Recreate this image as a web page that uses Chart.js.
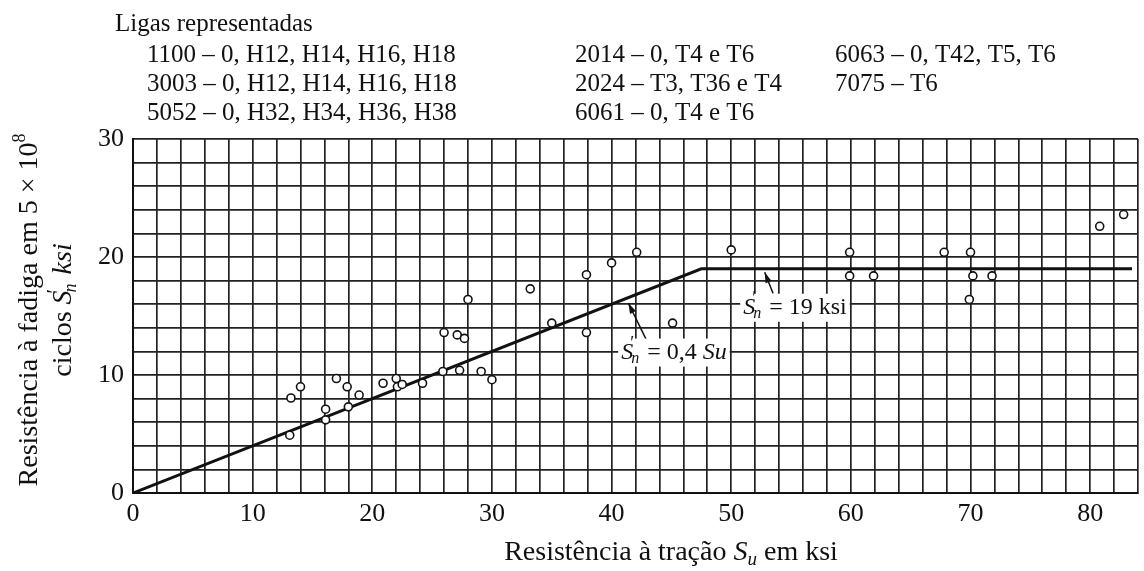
<!DOCTYPE html>
<html>
<head>
<meta charset="utf-8">
<script src="https://cdn.jsdelivr.net/npm/chart.js@4/dist/chart.umd.min.js"></script>
<style>
  html, body { margin: 0; padding: 0; background: #fff; }
</style>
</head>
<body>
<canvas id="fatigueChart" width="1144" height="571"></canvas>
<script>
// tensile strength Su (ksi) and fatigue strength S'n (ksi)
const suPoints = [13.2, 14.0, 13.1, 16.1, 16.1, 17.0, 17.9, 18.0, 18.9, 20.9,
  22.0, 22.1, 22.5, 24.2, 25.9, 26.0, 27.1, 27.7, 27.3, 28.0,
  29.1, 30.0, 33.2, 35.0, 37.9, 37.9, 40.0, 42.1, 45.1, 50.0,
  59.9, 59.9, 61.9, 67.8, 70.0, 70.2, 69.9, 71.8, 80.8, 82.8];
const snPoints = [8.05, 9.0, 4.9, 7.1, 6.2, 9.7, 9.0, 7.3, 8.3, 9.3,
  9.7, 9.0, 9.2, 9.3, 10.3, 13.6, 13.4, 13.1, 10.4, 16.4,
  10.3, 9.6, 17.3, 14.4, 18.5, 13.6, 19.5, 20.4, 14.4, 20.6,
  20.4, 18.4, 18.4, 20.4, 20.4, 18.4, 16.4, 18.4, 22.6, 23.6];

// S'n = 0,4 Su up to the 19 ksi plateau
const limitSu = [0, 47.5, 83.5];
const limitSn = [0, 19, 19];

const xLabelTicks = [0, 10, 20, 30, 40, 50, 60, 70, 80];
const yLabelTicks = [0, 10, 20, 30];

const alloyColumns = [
  ["1100 – 0, H12, H14, H16, H18", "3003 – 0, H12, H14, H16, H18", "5052 – 0, H32, H34, H36, H38"],
  ["2014 – 0, T4 e T6", "2024 – T3, T36 e T4", "6061 – 0, T4 e T6"],
  ["6063 – 0, T42, T5, T6", "7075 – T6"],
];

const SERIF = '"Liberation Serif", "DejaVu Serif", serif';
const INK = "#111";

function font(size, italic) {
  return (italic ? "italic " : "") + size + "px " + SERIF;
}

// mixed-font text on one line (italics, sub/superscripts)
function measureRich(ctx, parts) {
  let total = 0;
  parts.forEach(p => {
    ctx.font = p.font;
    p.w = ctx.measureText(p.t).width;
    if (p.advance !== false) total += p.w;
  });
  return total;
}

function drawRich(ctx, parts, x, y, align, bg) {
  const total = measureRich(ctx, parts);
  let cx = align === "center" ? x - total / 2 : align === "right" ? x - total : x;
  if (bg) {
    ctx.fillStyle = "#fff";
    ctx.fillRect(cx - 3, y - 14, total + 6, 28);
  }
  ctx.fillStyle = INK;
  ctx.textBaseline = "middle";
  ctx.textAlign = "left";
  parts.forEach(p => {
    ctx.font = p.font;
    ctx.fillText(p.t, cx + (p.dx || 0), y + (p.dy || 0));
    if (p.advance !== false) cx += p.w;
  });
}

function sPrimeN(size) {
  return [
    { t: "S", font: font(size, true) },
    { t: "′", font: font(size - 6), dy: -8, dx: -3, advance: false },
    { t: "n", font: font(size - 8, true), dy: 6, dx: -2 },
  ];
}

function arrow(ctx, x1, y1, x2, y2) {
  const a = Math.atan2(y2 - y1, x2 - x1);
  ctx.strokeStyle = INK;
  ctx.fillStyle = INK;
  ctx.lineWidth = 1.5;
  ctx.beginPath();
  ctx.moveTo(x1, y1);
  ctx.lineTo(x2, y2);
  ctx.stroke();
  ctx.beginPath();
  ctx.moveTo(x2, y2);
  ctx.lineTo(x2 - 11 * Math.cos(a - 0.3), y2 - 11 * Math.sin(a - 0.3));
  ctx.lineTo(x2 - 11 * Math.cos(a + 0.3), y2 - 11 * Math.sin(a + 0.3));
  ctx.closePath();
  ctx.fill();
}

const notesPlugin = {
  id: "notes",
  afterDatasetsDraw(chart) {
    const { ctx, scales: { x, y } } = chart;
    ctx.save();
    // S'n = 0,4 Su
    arrow(ctx, x.getPixelForValue(42.9), y.getPixelForValue(13.0),
      x.getPixelForValue(41.4), y.getPixelForValue(16.1));
    drawRich(ctx, sPrimeN(24).concat([
      { t: " = 0,4 ", font: font(24) },
      { t: "Su", font: font(24, true) },
    ]), x.getPixelForValue(40.8), y.getPixelForValue(11.9), "left", true);
    // S'n = 19 ksi
    arrow(ctx, x.getPixelForValue(53.5), y.getPixelForValue(16.9),
      x.getPixelForValue(52.8), y.getPixelForValue(18.7));
    drawRich(ctx, sPrimeN(24).concat([
      { t: " = 19 ksi", font: font(24) },
    ]), x.getPixelForValue(51.0), y.getPixelForValue(15.7), "left", true);
    ctx.restore();
  },
  afterDraw(chart) {
    const ctx = chart.ctx;
    ctx.save();
    ctx.fillStyle = INK;
    ctx.textBaseline = "alphabetic";
    ctx.textAlign = "left";
    ctx.font = font(25);
    ctx.fillText("Ligas representadas", 115, 31);
    const colX = [147, 575, 835];
    const rowY = [62, 91, 120];
    alloyColumns.forEach((col, c) => {
      col.forEach((line, r) => ctx.fillText(line, colX[c], rowY[r]));
    });

    // x axis title
    drawRich(ctx, [
      { t: "Resistência à tração ", font: font(28) },
      { t: "S", font: font(28, true) },
      { t: "u", font: font(19, true), dy: 7 },
      { t: " em ksi", font: font(28) },
    ], 671, 553, "center");

    // y axis title, two lines
    ctx.translate(0, 310);
    ctx.rotate(-Math.PI / 2);
    drawRich(ctx, [
      { t: "Resistência à fadiga em 5 × 10", font: font(28) },
      { t: "8", font: font(18), dy: -10 },
    ], 0, 30, "center");
    drawRich(ctx, [
      { t: "ciclos ", font: font(28) },
      { t: "S", font: font(28, true) },
      { t: "′", font: font(21), dy: -9, dx: -3, advance: false },
      { t: "n", font: font(18, true), dy: 7, dx: -2 },
      { t: " ksi", font: font(28, true) },
    ], 0, 64, "center");
    ctx.restore();
  },
};

const canvas = document.getElementById("fatigueChart");
new Chart(canvas.getContext("2d"), {
  type: "scatter",
  data: {
    datasets: [
      {
        label: "Ligas",
        data: suPoints.map((su, i) => ({ x: su, y: snPoints[i] })),
        pointRadius: 4,
        pointBorderWidth: 1.6,
        pointBorderColor: INK,
        pointBackgroundColor: "#fff",
        showLine: false,
      },
      {
        label: "S'n",
        data: limitSu.map((su, i) => ({ x: su, y: limitSn[i] })),
        showLine: true,
        borderColor: INK,
        borderWidth: 3,
        pointRadius: 0,
        tension: 0,
      },
    ],
  },
  options: {
    responsive: false,
    animation: false,
    devicePixelRatio: 1,
    layout: { padding: { top: 139, left: 0, right: 1, bottom: 0 } },
    plugins: { legend: { display: false }, tooltip: { enabled: false } },
    scales: {
      x: {
        type: "linear",
        min: 0,
        max: 84,
        afterFit: s => { s.height = 78; },
        grid: { color: "#222", lineWidth: 1.7, drawTicks: false },
        border: { color: INK, width: 2 },
        ticks: {
          stepSize: 2,
          autoSkip: false,
          maxRotation: 0,
          padding: 6,
          color: INK,
          font: { family: SERIF, size: 26 },
          callback: v => (xLabelTicks.includes(v) ? v : ""),
        },
      },
      y: {
        min: 0,
        max: 30,
        afterFit: s => { s.width = 133; },
        grid: { color: "#222", lineWidth: 1.7, drawTicks: false },
        border: { color: INK, width: 2 },
        ticks: {
          stepSize: 2,
          autoSkip: false,
          padding: 9,
          color: INK,
          font: { family: SERIF, size: 26 },
          callback: v => (yLabelTicks.includes(v) ? v : ""),
        },
      },
    },
  },
  plugins: [notesPlugin],
});
</script>
</body>
</html>
